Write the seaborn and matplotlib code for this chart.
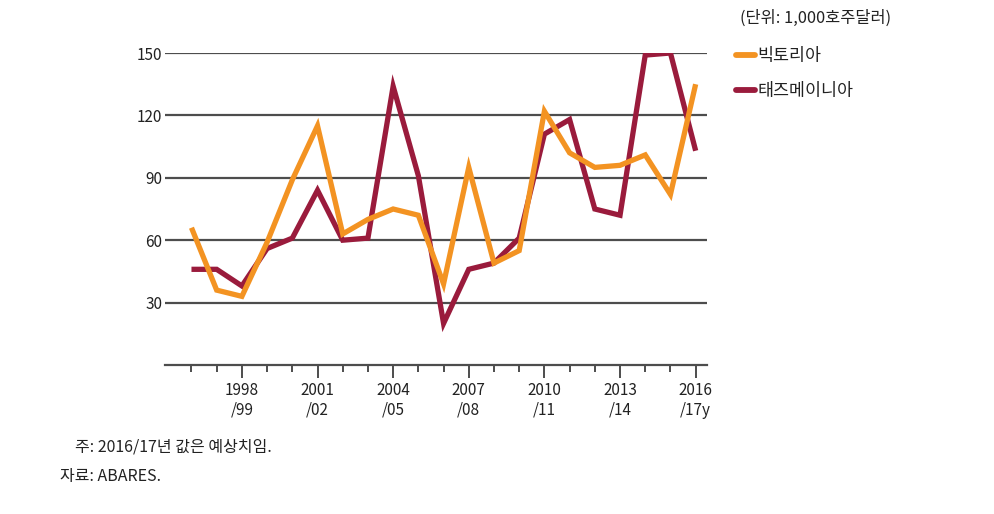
import numpy as np
import pandas as pd
import matplotlib
matplotlib.use("Agg")
import matplotlib.pyplot as plt
import seaborn as sns
from matplotlib.ticker import FixedLocator, NullFormatter
from matplotlib.lines import Line2D

# ---- data ----
years = ["1996/97", "1997/98", "1998/99", "1999/00", "2000/01", "2001/02", "2002/03",
         "2003/04", "2004/05", "2005/06", "2006/07", "2007/08", "2008/09", "2009/10",
         "2010/11", "2011/12", "2012/13", "2013/14", "2014/15", "2015/16", "2016/17"]
victoria = [66, 36, 33, 59, 89, 115, 63, 70, 75, 72, 39, 95, 49, 55,
            122, 102, 95, 96, 101, 82, 135]
tasmania = [46, 46, 38, 56, 61, 84, 60, 61, 134, 91, 20, 46, 49, 61,
            111, 118, 75, 72, 149, 150, 103]
series_names = ["빅토리아", "태즈메이니아"]
tick_labels = ["1998\n/99", "2001\n/02", "2004\n/05", "2007\n/08", "2010\n/11", "2013\n/14", "2016\n/17y"]
yticks = [30, 60, 90, 120, 150]
unit_text = "(단위: 1,000호주달러)"
note_text = "주: 2016/17년 값은 예상치임."
source_text = "자료: ABARES."

colors = {"빅토리아": "#F39322", "태즈메이니아": "#9A1B3C"}

df = pd.DataFrame({
    "idx": list(range(len(years))) * 2,
    "value": victoria + tasmania,
    "series": [series_names[0]] * len(years) + [series_names[1]] * len(years),
})

sns.set_theme(style="white")
plt.rcParams["font.family"] = ["Noto Sans CJK KR", "DejaVu Sans"]

fig = plt.figure(figsize=(9.94, 5.14), dpi=100)
ax = fig.add_axes([165 / 994, 1 - 365 / 514, (707 - 165) / 994, (365 - 53) / 514])

# gridlines
for yv in yticks:
    ax.axhline(yv, color="#4d4d4d", lw=1.6, zorder=1)

sns.lineplot(data=df, x="idx", y="value", hue="series", palette=colors,
             hue_order=[series_names[1], series_names[0]],
             lw=3.8, ax=ax, legend=False, zorder=3, solid_capstyle="butt",
             solid_joinstyle="miter")

ax.set_xlim(-1.05, 20.45)
ax.set_ylim(0, 150)
for s in ["left", "right", "top"]:
    ax.spines[s].set_visible(False)
ax.spines["bottom"].set_color("#4d4d4d")
ax.spines["bottom"].set_linewidth(1.6)

ax.set_yticks(yticks)
ax.set_yticklabels([str(v) for v in yticks])
ax.tick_params(axis="y", length=0, pad=2, labelsize=11, labelcolor="#222222")

major = list(range(2, 21, 3))
ax.xaxis.set_major_locator(FixedLocator(major))
ax.set_xticklabels(tick_labels)
ax.xaxis.set_minor_locator(FixedLocator([i for i in range(21) if i not in major]))
ax.xaxis.set_minor_formatter(NullFormatter())
ax.tick_params(axis="x", which="major", direction="out", length=9, width=1.4,
               color="#4d4d4d", labelsize=11, labelcolor="#222222", pad=3, bottom=True)
ax.tick_params(axis="x", which="minor", direction="out", length=5, width=1.4,
               color="#4d4d4d", bottom=True)
for lbl in ax.get_xticklabels():
    lbl.set_linespacing(1.25)

ax.set_xlabel("")
ax.set_ylabel("")

# legend (manual, figure coords)
fig.text(740 / 994, 1 - 18 / 514, unit_text, fontsize=11.8, va="center", ha="left", color="#222222")
handles = [Line2D([0], [0], color=colors[n], lw=4.2, solid_capstyle="round") for n in series_names]
leg = fig.legend(handles, series_names, loc="upper left",
                 bbox_to_anchor=(720 / 994, 1 - 31 / 514), frameon=False,
                 fontsize=12.5, handlelength=1.1, handletextpad=0.15, labelspacing=1.0)
for t in leg.get_texts():
    t.set_color("#222222")

fig.text(75 / 994, 1 - 447 / 514, note_text, fontsize=11.5, va="center", ha="left", color="#222222")
fig.text(60 / 994, 1 - 476 / 514, source_text, fontsize=11.5, va="center", ha="left", color="#222222")

fig.savefig("out.png", dpi=100, facecolor="white")
